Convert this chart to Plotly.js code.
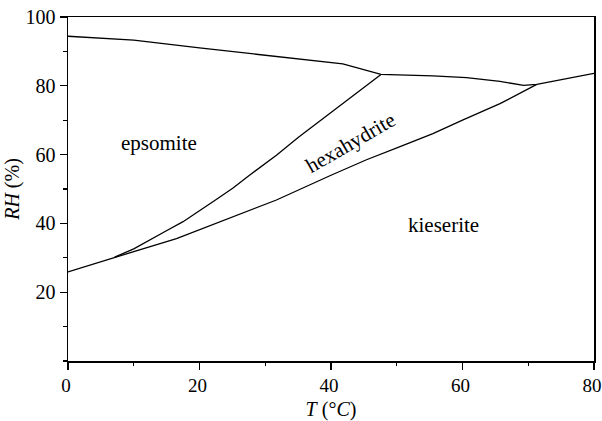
<!DOCTYPE html>
<html>
<head>
<meta charset="utf-8">
<script src="https://cdn.plot.ly/plotly-3.0.1.min.js"></script>
<style>html,body{margin:0;padding:0;background:#fff;}#chart{width:602px;height:421px;}</style>
</head>
<body>
<div id="chart"></div>
<script>
// Upper boundary (deliquescence)
const topT  = [0, 10, 20, 30, 41.8, 47.6, 55.5, 60.6, 65.7, 69.3, 71.3, 80];
const topRH = [94.4, 93.3, 91.0, 88.8, 86.4, 83.3, 82.9, 82.4, 81.3, 80.1, 80.4, 83.6];
// Epsomite / hexahydrite boundary
const epsT  = [7.1, 10, 14.9, 17.5, 22.6, 25.1, 27.6, 31.7, 35, 40.3, 42.8, 47.6];
const epsRH = [30.2, 32.6, 37.8, 40.5, 47.0, 50.3, 54.0, 59.8, 65.0, 72.5, 76.3, 83.3];
// Lower boundary (epsomite/kieserite then hexahydrite/kieserite)
const kieT  = [0, 7.1, 10, 16.5, 20, 25.1, 31.7, 40, 45.4, 50.5, 55.5, 60, 65.7, 71.3];
const kieRH = [25.9, 30.2, 31.8, 35.6, 38.2, 41.9, 46.8, 54.0, 58.5, 62.3, 66.1, 70.0, 74.8, 80.4];
// Region labels
const labelText = ["epsomite", "hexahydrite", "kieserite"];
const labelT    = [13.9, 42.9, 57.1];
const labelRH   = [63.3, 63.4, 39.4];
const labelAngle = [0, -30, 0];
// Ticks
const xTicks = [0, 20, 40, 60, 80];
const yTicks = [20, 40, 60, 80, 100];

const serif = "Liberation Serif, Times New Roman, serif";
const lineStyle = {color: "#000", width: 1.3};
const traces = [
  {x: topT, y: topRH, mode: "lines", line: lineStyle, hoverinfo: "skip"},
  {x: epsT, y: epsRH, mode: "lines", line: lineStyle, hoverinfo: "skip"},
  {x: kieT, y: kieRH, mode: "lines", line: lineStyle, hoverinfo: "skip"}
];
const annotations = labelText.map((t, i) => ({
  x: labelT[i], y: labelRH[i], xref: "x", yref: "y", text: t, showarrow: false,
  textangle: labelAngle[i], font: {family: serif, size: 21, color: "#000"}
}));
const axisCommon = {
  showline: true, linecolor: "#000", linewidth: 1.5, mirror: true,
  ticks: "outside", ticklen: 7, tickwidth: 1.3, tickcolor: "#000",
  showgrid: false, zeroline: false, ticklabeloverflow: "allow",
  tickfont: {family: serif, size: 20, color: "#000"},
  minor: {ticks: "outside", ticklen: 3.5, tickwidth: 1.3, tickcolor: "#000", dtick: 10, showgrid: false}
};
const layout = {
  width: 602, height: 421,
  margin: {l: 68, r: 8, t: 17, b: 60},
  paper_bgcolor: "#fff", plot_bgcolor: "#fff",
  showlegend: false,
  xaxis: Object.assign({}, axisCommon, {
    range: [0, 80], tickvals: xTicks, ticktext: xTicks.map(String),
    tickfont: {family: serif, size: 19, color: "#000"}, ticklabelshift: -2,
    title: {text: "<i>T</i> (°<i>C</i>)", font: {family: serif, size: 20, color: "#000"}, standoff: 6}
  }),
  yaxis: Object.assign({}, axisCommon, {
    range: [0, 100], tickvals: yTicks, ticktext: yTicks.map(String),
    title: {text: "<i>RH</i> (%)", font: {family: serif, size: 20, color: "#000"}, standoff: 0}
  }),
  annotations: annotations
};
Plotly.newPlot("chart", traces, layout, {staticPlot: true, displayModeBar: false});
</script>
</body>
</html>
